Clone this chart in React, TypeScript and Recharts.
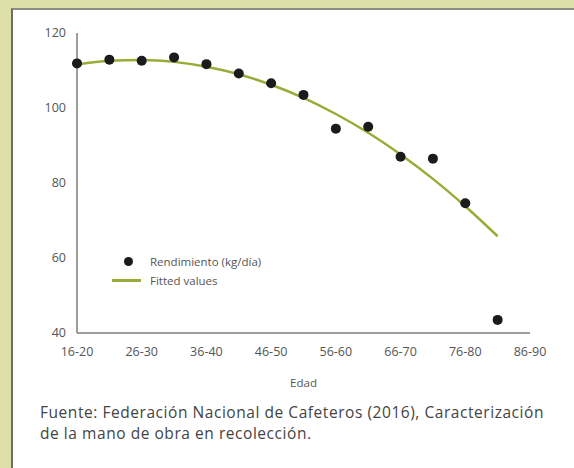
import React from "react";
import { ComposedChart, Line, Scatter, XAxis, YAxis } from "recharts";

// age groups, one per 5 years; only every other one gets a tick label
const AGE_GROUPS = [
  "16-20", "21-25", "26-30", "31-35", "36-40", "41-45", "46-50",
  "51-55", "56-60", "61-65", "66-70", "71-75", "76-80", "81-85", "86-90",
];
const RENDIMIENTO = [111.9, 112.9, 112.6, 113.5, 111.7, 109.2, 106.6, 103.5, 94.5, 95.0, 87.0, 86.5, 74.6, 43.5];
const FITTED = [111.6, 112.6, 112.8, 112.3, 111.0, 109.0, 106.2, 102.7, 98.4, 93.4, 87.6, 81.1, 73.8, 65.8];
const X_TICKS = [0, 2, 4, 6, 8, 10, 12, 14];
const Y_TICKS = [40, 60, 80, 100, 120];

const GREEN = "#9bab38";
const DOT = "#1c1a1b";
const AXIS = "#7d7d7d";
const TEXT = "#555555";
const FONT = "'Open Sans', sans-serif";

const data = RENDIMIENTO.map((v, i) => ({ idx: i, rend: v, fit: FITTED[i] }));

function LegendBox() {
  return (
    <div
      style={{
        position: "absolute",
        left: 107,
        top: 252,
        fontFamily: FONT,
        fontSize: 11.5,
        color: TEXT,
        lineHeight: "19px",
      }}
    >
      <div style={{ display: "flex", alignItems: "center" }}>
        <span style={{ width: 43, display: "inline-flex", justifyContent: "center" }}>
          <span style={{ width: 9, height: 9, borderRadius: "50%", background: DOT }} />
        </span>
        Rendimiento (kg/día)
      </div>
      <div style={{ display: "flex", alignItems: "center" }}>
        <span style={{ width: 43, display: "inline-flex", alignItems: "center", paddingLeft: 5, boxSizing: "border-box" }}>
          <span style={{ width: 29, height: 2.5, background: GREEN }} />
        </span>
        Fitted values
      </div>
    </div>
  );
}

export default function App() {
  return (
    <div style={{ position: "absolute", left: 0, top: 0, width: 574, height: 468, background: "#dde0a9", overflow: "hidden" }}>
      <div
        style={{
          position: "absolute",
          left: 11,
          top: 8,
          width: 563,
          height: 460,
          background: "#fff",
          borderTop: "2px solid #8c8c84",
          borderLeft: "2px solid #6e6e64",
          boxSizing: "border-box",
        }}
      />
      <div style={{ position: "absolute", left: 0, top: 0 }}>
        <ComposedChart width={574} height={400} data={data} margin={{ top: 33, right: 44, bottom: 7, left: 20 }}>
          <XAxis
            dataKey="idx"
            type="number"
            domain={[0, 14]}
            ticks={X_TICKS}
            tickFormatter={(v: number) => AGE_GROUPS[v]}
            interval={0}
            height={60}
            tickLine={false}
            tickMargin={8}
            axisLine={{ stroke: AXIS, strokeWidth: 1.5 }}
            tick={{ fill: TEXT, fontSize: 12.5, fontFamily: FONT }}
            label={{ value: "Edad", position: "insideBottom", offset: 6, fill: TEXT, fontSize: 11.5, fontFamily: FONT }}
          />
          <YAxis
            type="number"
            domain={[40, 120]}
            ticks={Y_TICKS}
            width={57}
            tickLine={false}
            tickMargin={5}
            axisLine={{ stroke: AXIS, strokeWidth: 1.5 }}
            tick={{ fill: TEXT, fontSize: 12.5, fontFamily: FONT }}
          />
          <Line
            dataKey="fit"
            type="monotone"
            stroke={GREEN}
            strokeWidth={2.5}
            dot={false}
            activeDot={false}
            isAnimationActive={false}
          />
          <Scatter
            dataKey="rend"
            fill={DOT}
            isAnimationActive={false}
            shape={(p: any) => <circle cx={p.cx} cy={p.cy} r={5} fill={DOT} />}
          />
        </ComposedChart>
      </div>
      <LegendBox />
      <div
        style={{
          position: "absolute",
          left: 40,
          top: 402,
          width: 530,
          fontFamily: FONT,
          fontSize: 15.5,
          letterSpacing: 0.55,
          lineHeight: "21px",
          color: "#444",
        }}
      >
        Fuente: Federación Nacional de Cafeteros (2016), Caracterización
        <br />
        de la mano de obra en recolección.
      </div>
    </div>
  );
}
